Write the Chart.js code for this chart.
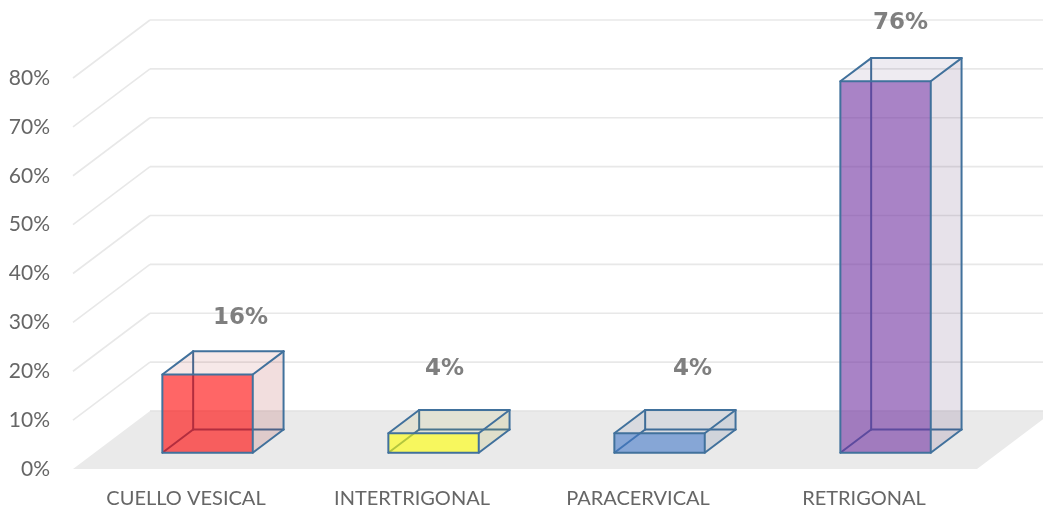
<!DOCTYPE html>
<html>
<head>
<meta charset="utf-8">
<script src="https://cdn.jsdelivr.net/npm/chart.js@4/dist/chart.umd.min.js"></script>
<style>
  html, body { margin: 0; padding: 0; background: #ffffff; }
  canvas { display: block; }
</style>
</head>
<body>
<canvas id="chart" width="1043" height="511"></canvas>
<script>
// Categories and their share (%)
const categories = ['CUELLO VESICAL', 'INTERTRIGONAL', 'PARACERVICAL', 'RETRIGONAL'];
const percentages = [16, 4, 4, 76];

// Value axis range
const yMin = 0;
const yMax = 80;
const yStep = 10;

// Base colour of each column (front face is drawn translucent)
const barColors = [[255, 0, 0], [255, 255, 0], [66, 120, 200], [112, 48, 160]];
// Small per-column shift of the value label, relative to the top centre of the front face
const labelNudge = [[33, -57], [11, -64], [33, -64], [15, -58]];

// Oblique projection: depth 0 = front plane, depth 1 = back wall
const DEPTH_DX = 77;
const DEPTH_DY = -58;
const BAR_DEPTH = [0.28, 0.68];
const EDGE_COLOR = '#41719c';
const GRID_COLOR = '#e8e8e8';
const FLOOR_COLOR = '#eaeaea';
const TEXT_COLOR = '#666666';

function proj(x, y, z) {
  return [x + DEPTH_DX * z, y + DEPTH_DY * z];
}

function poly(ctx, pts) {
  ctx.beginPath();
  ctx.moveTo(pts[0][0], pts[0][1]);
  for (let i = 1; i < pts.length; i++) ctx.lineTo(pts[i][0], pts[i][1]);
  ctx.closePath();
}

function seg(ctx, a, b) {
  ctx.beginPath();
  ctx.moveTo(a[0], a[1]);
  ctx.lineTo(b[0], b[1]);
  ctx.stroke();
}

function rgba(c, k, a) {
  return `rgba(${Math.round(c[0] * k)},${Math.round(c[1] * k)},${Math.round(c[2] * k)},${a})`;
}

const box3d = {
  id: 'box3d',
  beforeDatasetsDraw(chart) {
    const { ctx, chartArea, scales } = chart;
    const y = scales.y;
    const left = chartArea.left, right = chartArea.right;
    const base = y.getPixelForValue(yMin);
    ctx.save();
    // floor
    ctx.fillStyle = FLOOR_COLOR;
    poly(ctx, [proj(left, base, 0), proj(right, base, 0), proj(right, base, 1), proj(left, base, 1)]);
    ctx.fill();
    // side wall and back wall gridlines
    ctx.lineWidth = 1.6;
    for (let v = yMin; v <= yMax; v += yStep) {
      const py = y.getPixelForValue(v);
      const a = proj(left, py, 0);
      const b = proj(left, py, 1);
      ctx.strokeStyle = v === yMin ? '#e2e2e2' : GRID_COLOR;
      if (v !== yMin) seg(ctx, a, b);
      seg(ctx, b, [chart.width + 20, b[1]]);
    }
    ctx.restore();
  },
  afterDatasetsDraw(chart) {
    const { ctx } = chart;
    const meta = chart.getDatasetMeta(0);
    const [z0, z1] = BAR_DEPTH;
    ctx.save();
    ctx.lineJoin = 'round';
    ctx.lineCap = 'round';
    meta.data.forEach((el, i) => {
      const c = barColors[i];
      const xl = el.x - el.width / 2;
      const xr = el.x + el.width / 2;
      const yt = el.y;
      const yb = el.base;
      const FTL = proj(xl, yt, z0), FTR = proj(xr, yt, z0), FBL = proj(xl, yb, z0), FBR = proj(xr, yb, z0);
      const BTL = proj(xl, yt, z1), BTR = proj(xr, yt, z1), BBL = proj(xl, yb, z1), BBR = proj(xr, yb, z1);

      ctx.lineWidth = 2;
      ctx.strokeStyle = EDGE_COLOR;
      // hidden edges, seen through the translucent faces
      seg(ctx, BBL, BTL);
      seg(ctx, BBL, BBR);
      seg(ctx, FBL, BBL);

      // top and right faces
      ctx.fillStyle = rgba(c, 0.6, 0.09);
      poly(ctx, [FTL, BTL, BTR, FTR]);
      ctx.fill();
      ctx.fillStyle = rgba(c, 0.6, 0.13);
      poly(ctx, [FTR, BTR, BBR, FBR]);
      ctx.fill();

      // front face
      ctx.fillStyle = rgba(c, 1, 0.6);
      poly(ctx, [FTL, FTR, FBR, FBL]);
      ctx.fill();

      // visible edges
      ctx.strokeStyle = EDGE_COLOR;
      poly(ctx, [FTL, FTR, FBR, FBL]);
      ctx.stroke();
      seg(ctx, FTL, BTL);
      seg(ctx, BTL, BTR);
      seg(ctx, FTR, BTR);
      seg(ctx, BTR, BBR);
      seg(ctx, FBR, BBR);
    });

    // value labels
    ctx.fillStyle = '#7f7f7f';
    ctx.font = 'bold 23px "DejaVu Sans"';
    ctx.textAlign = 'center';
    ctx.textBaseline = 'middle';
    meta.data.forEach((el, i) => {
      const top = proj(el.x, el.y, z0);
      ctx.fillText(percentages[i] + '%', top[0] + labelNudge[i][0], top[1] + labelNudge[i][1]);
    });
    ctx.restore();
  }
};

function build() {
  const ctx = document.getElementById('chart').getContext('2d');
  new Chart(ctx, {
    type: 'bar',
    data: {
      labels: categories,
      datasets: [{
        data: percentages,
        backgroundColor: 'rgba(0,0,0,0)',
        borderWidth: 0,
        barPercentage: 0.4,
        categoryPercentage: 1
      }]
    },
    options: {
      responsive: false,
      animation: false,
      devicePixelRatio: 1,
      layout: { padding: { top: 78, right: 66, left: 0, bottom: 0 } },
      plugins: { legend: { display: false }, tooltip: { enabled: false } },
      scales: {
        x: {
          grid: { display: false, drawTicks: false },
          border: { display: false },
          ticks: {
            font: { family: 'Lato', size: 20 },
            color: TEXT_COLOR,
            padding: 18,
            maxRotation: 0,
            autoSkip: false
          },
          afterFit(scale) { scale.height = 42; }
        },
        y: {
          min: yMin,
          max: yMax,
          grid: { display: false, drawTicks: false },
          border: { display: false },
          ticks: {
            stepSize: yStep,
            callback: v => v + '%',
            font: { family: 'Lato', size: 21 },
            color: TEXT_COLOR,
            padding: 23
          },
          afterFit(scale) { scale.width = 73; }
        }
      }
    },
    plugins: [box3d]
  });
}

Promise.all([
  document.fonts.load('20px Lato'),
  document.fonts.load('bold 23px "DejaVu Sans"')
]).then(build, build);
</script>
</body>
</html>
